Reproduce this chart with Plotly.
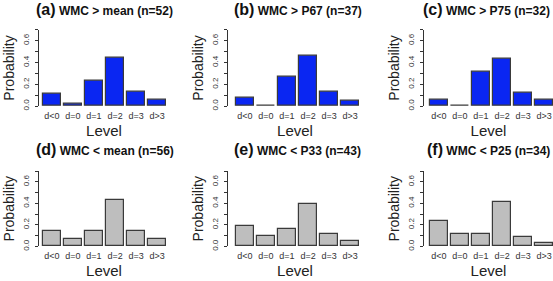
import plotly.graph_objects as go

# ---- data ----
levels = ["d<0", "d=0", "d=1", "d=2", "d=3", "d>3"]
prob_a = [0.115, 0.019, 0.231, 0.442, 0.135, 0.058]
prob_b = [0.081, 0.0, 0.270, 0.459, 0.135, 0.054]
prob_c = [0.0625, 0.0, 0.3125, 0.4375, 0.125, 0.0625]
prob_d = [0.143, 0.071, 0.143, 0.429, 0.143, 0.071]
prob_e = [0.186, 0.093, 0.163, 0.395, 0.116, 0.047]
prob_f = [0.235, 0.118, 0.118, 0.412, 0.088, 0.029]
panel_letters = ["(a)", "(b)", "(c)", "(d)", "(e)", "(f)"]
panel_labels = ["WMC > mean (n=52)", "WMC > P67 (n=37)", "WMC > P75 (n=32)",
                "WMC < mean (n=56)", "WMC < P33 (n=43)", "WMC < P25 (n=34)"]
y_ticks = [0.0, 0.1, 0.2, 0.3, 0.4, 0.5, 0.6, 0.7]
y_ticktext = ["0.0", "", "0.2", "", "0.4", "", "0.6", ""]

series = [prob_a, prob_b, prob_c, prob_d, prob_e, prob_f]

W, H = 553, 281
BLUE = "#0a26f2"
GRAY = "#bebebe"
EDGE = "#3a3a3a"
FONT = "Liberation Sans, Arial, sans-serif"

# layout geometry (pixels)
axis_px = [39, 228, 424]          # y-axis line x position per column
bar_left_px = [43, 236, 430]      # left edge of first bar per column
bar_span_px = 123                 # from first bar left to last bar right
rows_y = [(107.7, 30.2), (250.0, 173.5)]   # (y of 0.0, y of 0.7)
title_y = [10, 152]

# R barplot geometry: width 1, space 0.2 -> centers at 0.7 + 1.2*i
centers = [0.7 + 1.2 * i for i in range(6)]
s = bar_span_px / 7.0

fig = go.Figure()
annotations = []
for k in range(6):
    r, c = divmod(k, 3)
    idx = k + 1
    xa = "x" if idx == 1 else f"x{idx}"
    ya = "y" if idx == 1 else f"y{idx}"
    color = BLUE if r == 0 else GRAY
    fig.add_trace(go.Bar(
        x=centers, y=series[k], width=1.0,
        marker=dict(color=color, line=dict(color=EDGE, width=1.2)),
        xaxis=xa, yaxis=ya, showlegend=False, hoverinfo="y",
    ))
    ax = axis_px[c]
    bl = bar_left_px[c]
    br = bl + bar_span_px
    dr = min(br + 3, W)
    x_range = [0.2 - (bl - ax) / s, 7.2 + (dr - br) / s]
    y0, y7 = rows_y[r]
    lay_x = "xaxis" if idx == 1 else f"xaxis{idx}"
    lay_y = "yaxis" if idx == 1 else f"yaxis{idx}"
    fig.layout[lay_x] = dict(
        domain=[ax / W, dr / W], range=x_range, anchor=ya,
        tickmode="array", tickvals=centers, ticktext=levels,
        showline=False, showgrid=False, zeroline=False, ticks="",
        tickfont=dict(size=9, color="#333333", family=FONT),
        ticklabelstandoff=3,
        title=dict(text="Level", font=dict(size=15, color="#222222", family=FONT), standoff=5),
        fixedrange=True,
    )
    fig.layout[lay_y] = dict(
        domain=[1 - y0 / H, 1 - y7 / H], range=[0, 0.7], anchor=xa,
        tickmode="array", tickvals=y_ticks, ticktext=y_ticktext,
        ticks="outside", ticklen=3, tickwidth=1, tickcolor="#333333",
        showline=True, linecolor="#333333", linewidth=1,
        showgrid=False, zeroline=False, tickangle=-90,
        tickfont=dict(size=8, color="#333333", family=FONT),
        ticklabelstandoff=3,
        title=dict(text="Probability", font=dict(size=14, color="#222222", family=FONT), standoff=3),
        fixedrange=True,
    )
    cx = (bl + br) / 2
    if c == 2:
        ann_x, anchor = 552 / W, "right"
    else:
        ann_x, anchor = cx / W, "center"
    annotations.append(dict(
        xref="paper", yref="paper", x=ann_x, y=1 - title_y[r] / H,
        xanchor=anchor, yanchor="middle", showarrow=False,
        text=f"<b><span style='font-size:16px'>{panel_letters[k]}</span> {panel_labels[k]}</b>",
        font=dict(size=12, color="#111111", family=FONT),
    ))

fig.update_layout(
    width=W, height=H, margin=dict(l=0, r=0, t=0, b=0),
    paper_bgcolor="white", plot_bgcolor="white",
    bargap=0, annotations=annotations,
)

fig.write_html("out.html", config={"displayModeBar": False},
               post_script="document.body.style.margin='0';document.body.style.overflow='hidden';")
